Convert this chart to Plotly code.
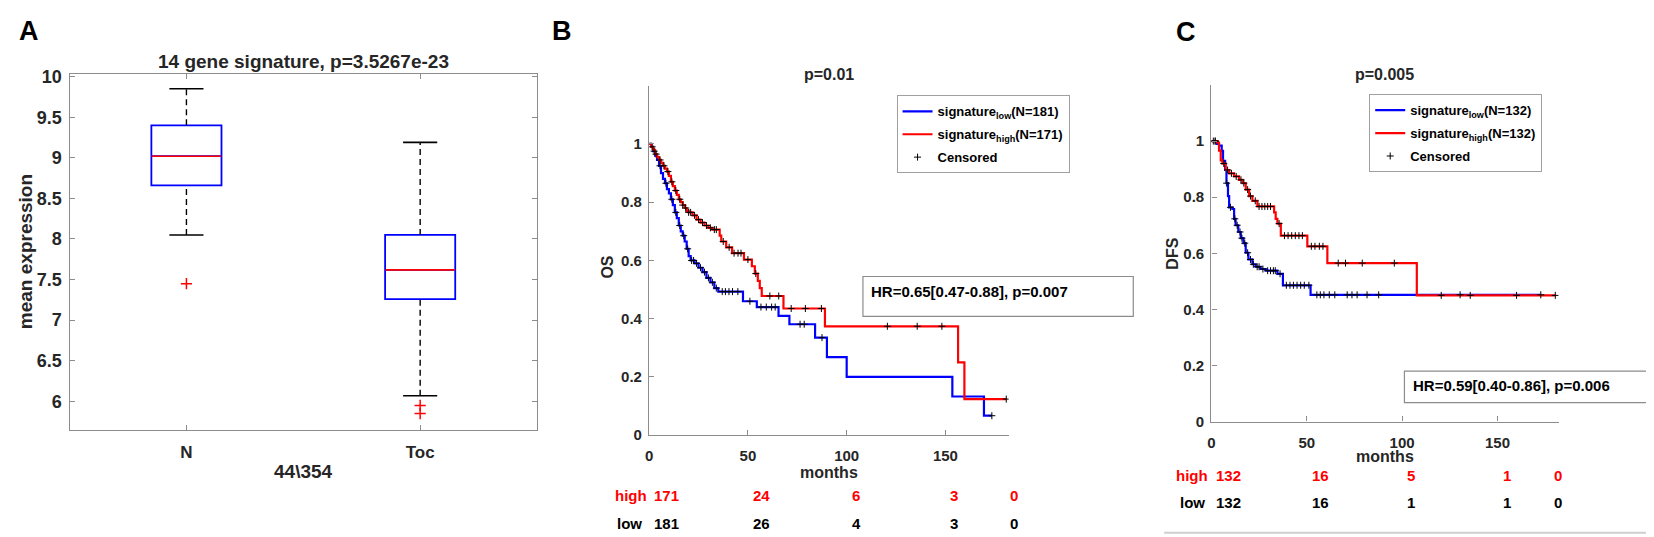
import numpy as np
import plotly.graph_objects as go

W, H = 1654, 537

# ---------------- data ----------------
# Panel A: box plot summary (mean expression)
A_categories = ["N", "Toc"]
A_q1 = [8.66, 7.26]
A_median = [9.02, 7.62]
A_q3 = [9.40, 8.05]
A_lower_whisker = [8.05, 6.07]
A_upper_whisker = [9.85, 9.19]
A_outliers = [[7.45], [5.95, 5.85]]
A_yticks = [6, 6.5, 7, 7.5, 8, 8.5, 9, 9.5, 10]

# Panel B: OS Kaplan-Meier
B_low_t = [0, 1, 2, 3, 4, 5, 6, 7, 8, 9, 10, 11, 12, 13, 14, 15, 16, 17, 18, 19, 20, 21,
           23, 25, 27, 29, 31, 33, 35, 47.5, 54.5, 65.5, 71, 84, 90, 100, 153.5, 169.5]
B_low_s = [1.0, 0.99, 0.975, 0.96, 0.945, 0.925, 0.90, 0.88, 0.865, 0.845, 0.83, 0.81, 0.79,
           0.765, 0.745, 0.72, 0.70, 0.685, 0.665, 0.64, 0.615, 0.60,
           0.59, 0.575, 0.56, 0.54, 0.525, 0.505, 0.493, 0.46, 0.44, 0.41, 0.381, 0.335,
           0.268, 0.20, 0.133, 0.067]
B_low_end = 173.5
B_low_cens = [2.5, 5.5, 8.5, 11.5, 13.5, 15.5, 17.5, 19.5, 21.5, 22.5, 24, 26, 28, 30, 32, 34,
              37, 38.6, 40.4, 42.2, 44.9, 51, 56.6, 59.3, 62, 63.8, 76.4, 78.5, 87.5, 173.5]

B_high_t = [0, 1, 2, 3, 4, 5, 6, 7, 8, 9, 10, 11, 12, 13, 14, 15, 16, 17, 18, 19, 20,
            22, 24, 26, 28, 30, 32, 35.7, 36.5, 39, 42, 48, 52, 53.5, 55, 56, 57,
            68, 89, 156.4, 159.6]
B_high_s = [1.0, 0.99, 0.98, 0.965, 0.955, 0.945, 0.935, 0.925, 0.915, 0.905, 0.89, 0.87,
            0.855, 0.84, 0.825, 0.81, 0.80, 0.79, 0.78, 0.77, 0.765,
            0.755, 0.74, 0.73, 0.72, 0.712, 0.706, 0.685, 0.665, 0.645, 0.625, 0.603, 0.58,
            0.555, 0.53, 0.505, 0.478, 0.435, 0.374, 0.25, 0.124]
B_high_end = 180.8
B_high_cens = [1.5, 3.5, 5.5, 7.5, 9.5, 11.5, 13.5, 15.5, 17, 18.5, 20, 21, 23, 25, 27, 29, 31,
               33, 34, 37.5, 40.5, 43, 45, 46.5, 50, 54, 61.1, 65.6, 71.9, 79.1, 87.2,
               120.6, 135.7, 148.2, 180.8]

B_risk_t = [0, 50, 100, 150, 180]
B_risk_high = [171, 24, 6, 3, 0]
B_risk_low = [181, 26, 4, 3, 0]

# Panel C: DFS Kaplan-Meier
C_low_t = [0, 3, 4, 5.4, 6.1, 7.2, 7.9, 8.7, 9.3, 11, 11.9, 12.7, 14.1, 15.4, 16.8, 18,
           19.4, 21.5, 23.2, 25.8, 28.5, 34.6, 37.5, 52]
C_low_s = [1.0, 0.99, 0.984, 0.965, 0.93, 0.897, 0.85, 0.804, 0.764, 0.758, 0.723, 0.70,
           0.676, 0.654, 0.636, 0.602, 0.578, 0.561, 0.552, 0.544, 0.538, 0.527, 0.486, 0.452]
C_low_end = 172.7
C_low_cens = [2, 8, 10, 12.3, 13.5, 15, 16, 17.5, 19, 20.5, 22, 24, 25, 27, 29.5, 31, 32.5,
              33.5, 36, 39.3, 41.2, 43, 44.9, 46.8, 48.7, 51.1, 55.3, 57.1, 59, 61.8, 64.7,
              71.2, 73.7, 76.4, 81.6, 87.7, 130.4, 172.7]

C_high_t = [0, 3.1, 4, 4.9, 5.8, 7.5, 9.3, 11.9, 14.5, 16.3, 18, 19.8, 21.5, 24.1, 32.9,
            33.7, 34.6, 36.4, 50.3, 60.8, 107.7]
C_high_s = [1.0, 0.995, 0.966, 0.931, 0.92, 0.897, 0.885, 0.874, 0.862, 0.85, 0.827, 0.804,
            0.787, 0.767, 0.746, 0.723, 0.706, 0.663, 0.625, 0.565, 0.45]
C_high_end = 180.3
C_high_cens = [1, 2, 6.5, 8.5, 10.5, 13, 15.5, 17, 19, 20.5, 23, 25, 26.5, 28, 29.5, 31,
               35.5, 38.3, 40.2, 42.1, 44, 45.9, 47.7, 52.4, 54.3, 56.6, 58.5, 66.5, 70.3,
               79.1, 95.9, 120.5, 135.7, 160, 180.3]

C_risk_t = [0, 50, 100, 150, 177]
C_risk_high = [132, 16, 5, 1, 0]
C_risk_low = [132, 16, 1, 1, 0]

KM_xticks = [0, 50, 100, 150]
KM_yticks = [0, 0.2, 0.4, 0.6, 0.8, 1]

# ---------------- styling helpers ----------------
FONT = "Liberation Sans, Arial, Helvetica, sans-serif"
TXT = "#262626"
AXC = "#8c8c8c"
BLUE = "#0000ff"
RED = "#ff0000"


def px(x):
    return x / W


def py(y):
    return 1 - y / H


def surv_at(times, surv, t):
    idx = np.searchsorted(np.asarray(times), np.asarray(t), side="right") - 1
    return list(np.asarray(surv)[idx])


fig = go.Figure()

# ---------------- Panel A ----------------
for i, cat in enumerate(A_categories):
    xc = i + 1
    fig.add_trace(go.Box(
        x=[xc], q1=[A_q1[i]], median=[A_median[i]], q3=[A_q3[i]],
        lowerfence=[A_q1[i]], upperfence=[A_q3[i]], width=0.3, whiskerwidth=0,
        line=dict(color=BLUE, width=1.8), fillcolor="rgba(0,0,0,0)", boxpoints=False,
        xaxis="x", yaxis="y", showlegend=False, hoverinfo="skip"))
    # median
    fig.add_trace(go.Scatter(x=[xc - 0.149, xc + 0.149], y=[A_median[i]] * 2, mode="lines",
                             line=dict(color=RED, width=1.6), xaxis="x", yaxis="y",
                             showlegend=False, hoverinfo="skip"))
    # whiskers (dashed)
    for y0, y1 in [(A_q3[i], A_upper_whisker[i]), (A_lower_whisker[i], A_q1[i])]:
        fig.add_trace(go.Scatter(x=[xc, xc], y=[y0, y1], mode="lines",
                                 line=dict(color="black", width=1.4, dash="6px,4px"),
                                 xaxis="x", yaxis="y", showlegend=False, hoverinfo="skip"))
    # whisker caps
    for yv in [A_upper_whisker[i], A_lower_whisker[i]]:
        fig.add_trace(go.Scatter(x=[xc - 0.073, xc + 0.073], y=[yv, yv], mode="lines",
                                 line=dict(color="black", width=1.6),
                                 xaxis="x", yaxis="y", showlegend=False, hoverinfo="skip"))
    # outliers
    fig.add_trace(go.Scatter(x=[xc] * len(A_outliers[i]), y=A_outliers[i], mode="markers",
                             marker=dict(symbol="cross-thin", size=8,
                                         line=dict(color=RED, width=1.5)),
                             xaxis="x", yaxis="y", showlegend=False, hoverinfo="skip"))


# ---------------- KM panels ----------------
def add_km(t, s, t_end, color, name, xa, ya, leg, grp):
    fig.add_trace(go.Scatter(x=list(t) + [t_end], y=list(s) + [s[-1]], mode="lines",
                             line=dict(color=color, width=2.2, shape="hv"), name=name,
                             xaxis=xa, yaxis=ya, legend=leg, legendgroup=grp,
                             hoverinfo="skip"))


def add_cens(groups, xa, ya, leg, grp):
    xs, ys = [], []
    for t, s, c in groups:
        xs += list(c)
        ys += surv_at(t, s, c)
    fig.add_trace(go.Scatter(x=xs, y=ys, mode="markers", name="Censored",
                             marker=dict(symbol="cross-thin", size=5,
                                         line=dict(color="black", width=1)),
                             xaxis=xa, yaxis=ya, legend=leg, legendgroup=grp,
                             hoverinfo="skip"))


add_km(B_low_t, B_low_s, B_low_end, BLUE, "signature<sub>low</sub>(N=181)",
       "x2", "y2", "legend", "b1")
add_km(B_high_t, B_high_s, B_high_end, RED, "signature<sub>high</sub>(N=171)",
       "x2", "y2", "legend", "b2")
add_cens([(B_low_t, B_low_s, B_low_cens), (B_high_t, B_high_s, B_high_cens)],
         "x2", "y2", "legend", "b3")

add_km(C_low_t, C_low_s, C_low_end, BLUE, "signature<sub>low</sub>(N=132)",
       "x3", "y3", "legend2", "c1")
add_km(C_high_t, C_high_s, C_high_end, RED, "signature<sub>high</sub>(N=132)",
       "x3", "y3", "legend2", "c2")
add_cens([(C_low_t, C_low_s, C_low_cens), (C_high_t, C_high_s, C_high_cens)],
         "x3", "y3", "legend2", "c3")

# ---------------- axes ----------------
common = dict(showgrid=False, zeroline=False, showline=True, linecolor=AXC, linewidth=1.4,
              ticks="inside", ticklen=5, tickwidth=1.2, tickcolor=AXC)

A_dom_x = [px(57.7), px(526.3)]
A_dom_y = [py(426.7), py(60.3)]
B_dom_x = [px(638.7), px(638.7 + 182 * 1.98)]
B_dom_y = [py(432.3), py(72.7)]
C_dom_x = [px(1202.3), px(1202.3 + 182 * 1.912)]
C_dom_y = [py(418.3), py(72.0)]

fig.update_layout(
    xaxis=dict(domain=A_dom_x, range=[0.5, 2.5], tickvals=[1, 2], ticktext=A_categories,
               mirror="ticks", anchor="y", tickfont=dict(size=17, color=TXT),
               ticklabelstandoff=7, **common),
    yaxis=dict(domain=A_dom_y, range=[5.65, 10.037], tickvals=A_yticks,
               ticktext=[f"{v:g}" for v in A_yticks], mirror="ticks", anchor="x",
               tickfont=dict(size=18, color=TXT), ticklabelstandoff=3, **common),
    xaxis2=dict(domain=B_dom_x, range=[0, 182], tickvals=KM_xticks, anchor="y2",
                tickfont=dict(size=15, color=TXT), ticklabelstandoff=7, **common),
    yaxis2=dict(domain=B_dom_y, range=[0, 1.2], tickvals=KM_yticks,
                ticktext=[f"{v:g}" for v in KM_yticks], anchor="x2",
                tickfont=dict(size=15, color=TXT), ticklabelstandoff=3, **common),
    xaxis3=dict(domain=C_dom_x, range=[0, 182], tickvals=KM_xticks, anchor="y3",
                tickfont=dict(size=15, color=TXT), ticklabelstandoff=7, **common),
    yaxis3=dict(domain=C_dom_y, range=[0, 1.2], tickvals=KM_yticks,
                ticktext=[f"{v:g}" for v in KM_yticks], anchor="x3",
                tickfont=dict(size=15, color=TXT), ticklabelstandoff=3, **common),
)

leg_common = dict(xanchor="left", yanchor="top", bgcolor="white", bordercolor="#a0a0a0",
                  borderwidth=1, font=dict(size=13, color="black", family=FONT, weight="bold"),
                  itemwidth=30, traceorder="grouped", tracegroupgap=3)
fig.update_layout(
    legend=dict(x=px(886.7), y=py(82.7), **leg_common),
    legend2=dict(x=px(1360.5), y=py(81.5), **leg_common),
)

# ---------------- text annotations ----------------
ann = []


def text(x, y, s, size, color=TXT, angle=0, xanchor="center"):
    ann.append(dict(x=px(x), y=py(y), xref="paper", yref="paper", text=s, showarrow=False,
                    xanchor=xanchor, yanchor="middle", textangle=angle,
                    font=dict(size=size, color=color, family=FONT, weight="bold")))


# panel letters
text(17, 16, "A", 27, color="black")
text(551, 16, "B", 27, color="black")
text(1177, 17, "C", 27, color="black")

# panel A texts
text(292, 48.3, "14 gene signature, p=3.5267e-23", 19)
text(13.5, 243.5, "mean expression", 19, angle=-90)
text(292, 470, r"44\354", 19)

# panel B texts
text(819, 61.7, "p=0.01", 16)
text(597, 259.3, "OS", 16, angle=-90)
text(818.5, 470.3, "months", 16)
text(859, 284, "HR=0.65[0.47-0.88], p=0.007", 15, color="black", xanchor="left")

# panel C texts
text(1376, 61.7, "p=0.005", 16)
text(1163, 245.3, "DFS", 16, angle=-90)
text(1376, 454.5, "months", 16)
text(1402, 381, "HR=0.59[0.40-0.86], p=0.006", 15, color="black", xanchor="left")


def risk_row(xa, times, counts, label, y, color, lab_shift):
    ann.append(dict(x=0, y=py(y), xref=xa, yref="paper", text=label, showarrow=False,
                    xanchor="right", yanchor="middle", xshift=lab_shift,
                    font=dict(size=15, color=color, family=FONT, weight="bold")))
    for t, c in zip(times, counts):
        ann.append(dict(x=t, y=py(y), xref=xa, yref="paper", text=str(c), showarrow=False,
                        xanchor="left", yanchor="middle", xshift=3,
                        font=dict(size=15, color=color, family=FONT, weight="bold")))


risk_row("x2", B_risk_t, B_risk_high, "high", 494, RED, 0)
risk_row("x2", B_risk_t, B_risk_low, "low", 523, "black", -5)
risk_row("x3", C_risk_t, C_risk_high, "high", 474, RED, -1)
risk_row("x3", C_risk_t, C_risk_low, "low", 502, "black", -4)

shapes = [
    dict(type="rect", xref="paper", yref="paper", x0=px(853), x1=px(1124), y0=py(310),
         y1=py(269), line=dict(color="#8c8c8c", width=1.2), fillcolor="rgba(0,0,0,0)"),
    dict(type="rect", xref="paper", yref="paper", x0=px(1395.8), x1=px(1647.6), y0=py(398.8),
         y1=py(366.4), line=dict(color="#8c8c8c", width=1.2), fillcolor="rgba(0,0,0,0)"),
    dict(type="line", xref="paper", yref="paper", x0=px(1155), x1=1, y0=py(532.7),
         y1=py(532.7), line=dict(color="#cfcfcf", width=2)),
]

fig.update_layout(
    width=W, height=H, autosize=False,
    margin=dict(l=0, r=0, t=0, b=0),
    paper_bgcolor="white", plot_bgcolor="white",
    font=dict(family=FONT, size=14, color=TXT, weight="bold"),
    annotations=ann, shapes=shapes,
)

fig.write_html("out.html")
